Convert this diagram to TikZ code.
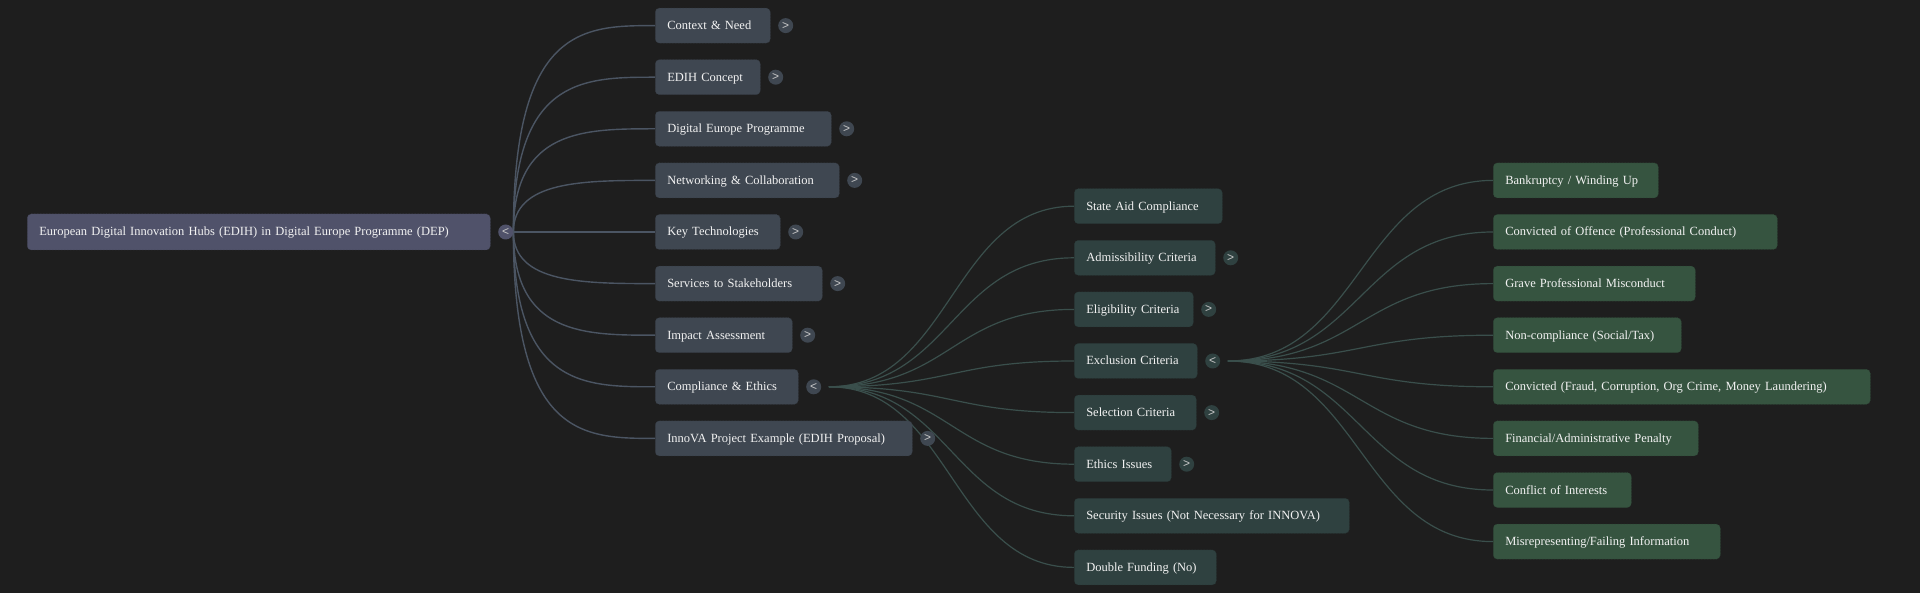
\documentclass[tikz,border=0pt]{standalone}
\usepackage{fontspec}
\setmainfont{Liberation Serif}
\newfontfamily\dotfont{Liberation Sans}
\usepackage{tikz}
\usetikzlibrary{positioning,calc,backgrounds}

\definecolor{bgc}{HTML}{1E1E1E}
\definecolor{rootfill}{HTML}{50526A}
\definecolor{onefill}{HTML}{3F4751}
\definecolor{twofill}{HTML}{2F4140}
\definecolor{threefill}{HTML}{365440}
\definecolor{oneline}{HTML}{4B5563}
\definecolor{twoline}{HTML}{3A4F4C}
\definecolor{dotfg}{HTML}{C8C8C8}
\definecolor{txt}{HTML}{F2F2F2}

\begin{document}
\begin{tikzpicture}[x=1pt,y=-1pt,
	box/.style={shape=rectangle,rounded corners=4pt,anchor=west,minimum height=35pt,inner xsep=12pt,inner ysep=0pt,align=left,text height=10.5pt,text depth=2.5pt,text=txt,font=\fontsize{12.5}{15}\selectfont,execute at begin node=\hbox\bgroup,execute at end node=\egroup},
	rootbox/.style={box,fill=rootfill,draw=rootfill!85!black,densely dotted,line width=0.5pt,minimum height=36pt},
	onebox/.style={box,fill=onefill,draw=onefill!85!black,densely dotted,line width=0.5pt},
	twobox/.style={box,fill=twofill,draw=twofill!85!black,densely dotted,line width=0.5pt},
	threebox/.style={box,fill=threefill,draw=threefill!85!black,densely dotted,line width=0.5pt},
	dot/.style={shape=circle,minimum size=15pt,inner sep=0pt,text=dotfg,font=\dotfont\fontsize{12}{12}\selectfont},
	vcurve/.style={to path={.. controls (\tikztostart |- \tikztotarget) and ($(\tikztostart |- \tikztotarget)!0.5!(\tikztotarget)$) .. (\tikztotarget)}},
	hcurve/.style={to path={.. controls ($(\tikztostart)!0.5!(\tikztostart -| \tikztotarget)$) and ($(\tikztotarget)!0.5!(\tikztotarget -| \tikztostart)$) .. (\tikztotarget)}},
	oneedge/.style={draw=oneline,line width=1.4pt},
	twoedge/.style={draw=twoline,line width=1.2pt}]
	\useasboundingbox (0,0) rectangle (1920,593);

	% root
	\node (root) [rootbox,text width=439pt] at (27,232) {European Digital Innovation Hubs (EDIH) in Digital Europe Programme (DEP)};
	\node (rootdot) [dot,fill=rootfill,right=7.5pt of root] {<};

	% first level
	\node (ctx) [onebox,text width=91pt] at (655,25.6) {Context \& Need};
	\node (ctxdot) [dot,fill=onefill,right=7.5pt of ctx] {>};
	\node (concept) [onebox,text width=81pt] at (655,77.2) {EDIH Concept};
	\node (conceptdot) [dot,fill=onefill,right=7.5pt of concept] {>};
	\node (dep) [onebox,text width=152pt] at (655,128.8) {Digital Europe Programme};
	\node (depdot) [dot,fill=onefill,right=7.5pt of dep] {>};
	\node (net) [onebox,text width=160pt] at (655,180.4) {Networking \& Collaboration};
	\node (netdot) [dot,fill=onefill,right=7.5pt of net] {>};
	\node (tech) [onebox,text width=101pt] at (655,232) {Key Technologies};
	\node (techdot) [dot,fill=onefill,right=7.5pt of tech] {>};
	\node (serv) [onebox,text width=143pt] at (655,283.6) {Services to Stakeholders};
	\node (servdot) [dot,fill=onefill,right=7.5pt of serv] {>};
	\node (impact) [onebox,text width=113pt] at (655,335.2) {Impact Assessment};
	\node (impactdot) [dot,fill=onefill,right=7.5pt of impact] {>};
	\node (comp) [onebox,text width=119pt] at (655,386.8) {Compliance \& Ethics};
	\node (compdot) [dot,fill=onefill,right=7.5pt of comp] {<};
	\node (innova) [onebox,text width=233pt] at (655,438.4) {InnoVA Project Example (EDIH Proposal)};
	\node (innovadot) [dot,fill=onefill,right=7.5pt of innova] {>};

	% second level
	\node (aid) [twobox,text width=124pt] at (1074,206.2) {State Aid Compliance};
	\node (admis) [twobox,text width=117pt] at (1074,257.8) {Admissibility Criteria};
	\node (admisdot) [dot,fill=twofill,right=7.5pt of admis] {>};
	\node (elig) [twobox,text width=95pt] at (1074,309.4) {Eligibility Criteria};
	\node (eligdot) [dot,fill=twofill,right=7.5pt of elig] {>};
	\node (excl) [twobox,text width=99pt] at (1074,361) {Exclusion Criteria};
	\node (excldot) [dot,fill=twofill,right=7.5pt of excl] {<};
	\node (sel) [twobox,text width=98pt] at (1074,412.6) {Selection Criteria};
	\node (seldot) [dot,fill=twofill,right=7.5pt of sel] {>};
	\node (ethics) [twobox,text width=73pt] at (1074,464.2) {Ethics Issues};
	\node (ethicsdot) [dot,fill=twofill,right=7.5pt of ethics] {>};
	\node (secur) [twobox,text width=251pt] at (1074,515.8) {Security Issues (Not Necessary for INNOVA)};
	\node (double) [twobox,text width=118pt] at (1074,567.4) {Double Funding (No)};

	% third level
	\node (bankr) [threebox,text width=141pt] at (1493,180.4) {Bankruptcy / Winding Up};
	\node (offence) [threebox,text width=260pt] at (1493,232) {Convicted of Offence (Professional Conduct)};
	\node (misc) [threebox,text width=178pt] at (1493,283.6) {Grave Professional Misconduct};
	\node (noncomp) [threebox,text width=164pt] at (1493,335.2) {Non-compliance (Social/Tax)};
	\node (fraud) [threebox,text width=353pt] at (1493,386.8) {Convicted (Fraud, Corruption, Org Crime, Money Laundering)};
	\node (penalty) [threebox,text width=181pt] at (1493,438.4) {Financial/Administrative Penalty};
	\node (conflict) [threebox,text width=114pt] at (1493,490) {Conflict of Interests};
	\node (misrep) [threebox,text width=203pt] at (1493,541.6) {Misrepresenting/Failing Information};

	\coordinate (compfan) at ([xshift=7.5pt]compdot.east);
	\coordinate (exclfan) at ([xshift=7.5pt]excldot.east);

	\begin{scope}[on background layer]
		\fill[bgc] (0,0) rectangle (1920,593);
		% root to first level
		\path[oneedge] (rootdot.east) edge[vcurve] (ctx.west);
		\path[oneedge] (rootdot.east) edge[vcurve] (concept.west);
		\path[oneedge] (rootdot.east) edge[vcurve] (dep.west);
		\path[oneedge] (rootdot.east) edge[vcurve] (net.west);
		\path[oneedge] (rootdot.east) edge[vcurve] (tech.west);
		\path[oneedge] (rootdot.east) edge[vcurve] (serv.west);
		\path[oneedge] (rootdot.east) edge[vcurve] (impact.west);
		\path[oneedge] (rootdot.east) edge[vcurve] (comp.west);
		\path[oneedge] (rootdot.east) edge[vcurve] (innova.west);
		% compliance fan
		\path[twoedge] (compfan) edge[hcurve] (aid.west);
		\path[twoedge] (compfan) edge[hcurve] (admis.west);
		\path[twoedge] (compfan) edge[hcurve] (elig.west);
		\path[twoedge] (compfan) edge[hcurve] (excl.west);
		\path[twoedge] (compfan) edge[hcurve] (sel.west);
		\path[twoedge] (compfan) edge[hcurve] (ethics.west);
		\path[twoedge] (compfan) edge[hcurve] (secur.west);
		\path[twoedge] (compfan) edge[hcurve] (double.west);
		% exclusion fan
		\path[twoedge] (exclfan) edge[hcurve] (bankr.west);
		\path[twoedge] (exclfan) edge[hcurve] (offence.west);
		\path[twoedge] (exclfan) edge[hcurve] (misc.west);
		\path[twoedge] (exclfan) edge[hcurve] (noncomp.west);
		\path[twoedge] (exclfan) edge[hcurve] (fraud.west);
		\path[twoedge] (exclfan) edge[hcurve] (penalty.west);
		\path[twoedge] (exclfan) edge[hcurve] (conflict.west);
		\path[twoedge] (exclfan) edge[hcurve] (misrep.west);
	\end{scope}
\end{tikzpicture}
\end{document}
